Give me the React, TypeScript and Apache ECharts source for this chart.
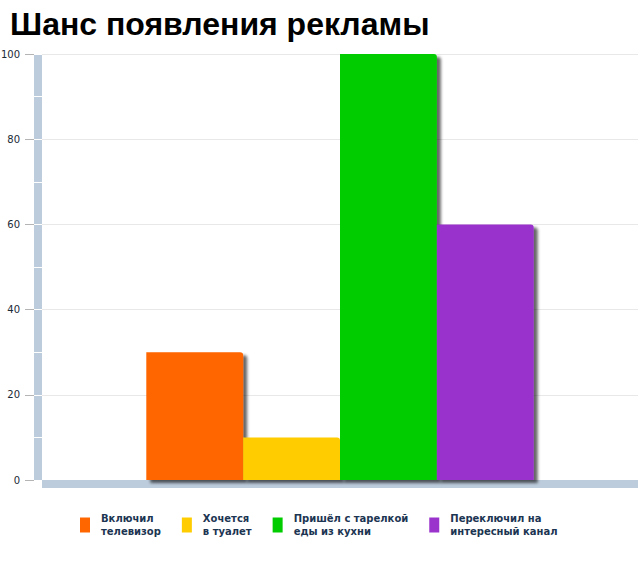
import React, { useEffect, useRef } from "react";
import * as echarts from "echarts";

const titleText = "Шанс появления рекламы";
const categories = [""];
const seriesNames = [
  "Включил\nтелевизор",
  "Хочется\nв туалет",
  "Пришёл с тарелкой\nеды из кухни",
  "Переключил на\nинтересный канал",
];
const seriesValues = [30, 10, 100, 60];
const seriesColors = ["#ff6600", "#ffcc00", "#00cc00", "#9933cc"];
const yMin = 0;
const yMax = 100;
const yStep = 20;
const yMinorStep = 10;

const axisBarColor = "#bdccdc";

export default function App() {
  const ref = useRef<HTMLDivElement>(null);
  useEffect(() => {
    if (!ref.current) return;
    const chart = echarts.init(ref.current, undefined, { renderer: "svg" });
    const option: any = {
      animation: false,
      backgroundColor: "#ffffff",
      title: {
        text: titleText,
        left: 5,
        top: 3,
        textStyle: {
          fontFamily: "Liberation Sans",
          fontSize: 32,
          fontWeight: "bold",
          color: "#000000",
        },
      },
      legend: {
        left: 80,
        top: 512,
        padding: 0,
        itemWidth: 10,
        itemHeight: 15,
        itemGap: 21,
        icon: "rect",
        textStyle: {
          fontFamily: "DejaVu Sans",
          fontWeight: "bold",
          fontSize: 10,
          lineHeight: 13,
          color: "#1c3552",
          padding: [0, 0, 0, 6],
        },
        data: seriesNames,
      },
      grid: {
        left: 42,
        right: 2,
        top: 54,
        bottom: 85,
        containLabel: false,
        outerBoundsMode: "none",
      },
      xAxis: {
        type: "category",
        data: categories,
        offset: 4,
        axisLine: {
          show: true,
          onZero: false,
          lineStyle: { color: axisBarColor, width: 8, cap: "butt" },
        },
        axisTick: { show: false },
        axisLabel: { show: false },
        splitLine: { show: false },
      },
      yAxis: [
        {
          type: "value",
          position: "left",
          min: yMin,
          max: yMax,
          interval: yStep,
          offset: 4,
          axisLine: {
            show: true,
            onZero: false,
            lineStyle: { color: axisBarColor, width: 8, cap: "butt" },
          },
          axisTick: { show: false },
          axisLabel: { show: false },
          splitLine: { show: true, lineStyle: { color: "#e8e8e8", width: 1 } },
        },
        {
          type: "value",
          position: "left",
          min: yMin,
          max: yMax,
          interval: yStep,
          offset: 8,
          axisLine: { show: false, onZero: false },
          axisTick: { show: true, length: 9, lineStyle: { color: "#b4b4b4" } },
          axisLabel: {
            show: true,
            margin: 14,
            fontFamily: "DejaVu Sans",
            fontSize: 10,
            color: "#1a2a36",
          },
          splitLine: { show: false },
        },
        {
          type: "value",
          position: "left",
          min: yMin,
          max: yMax,
          interval: yMinorStep,
          offset: 8,
          z: 5,
          axisLine: { show: false, onZero: false },
          axisTick: {
            show: true,
            inside: true,
            length: 8,
            lineStyle: { color: "#ffffff", width: 1 },
          },
          axisLabel: { show: false },
          splitLine: { show: false },
        },
      ],
      series: seriesNames.map((name, i) => ({
        name,
        type: "bar",
        yAxisIndex: 0,
        barGap: "0%",
        barCategoryGap: "35%",
        data: [seriesValues[i]],
        itemStyle: {
          color: seriesColors[i],
          borderRadius: [0, 3, 0, 0],
          shadowColor: "rgba(0,0,0,0.6)",
          shadowBlur: 3,
          shadowOffsetX: 4,
          shadowOffsetY: 3,
        },
      })),
    };
    chart.setOption(option);
    return () => chart.dispose();
  }, []);
  return (
    <div
      ref={ref}
      style={{ position: "absolute", left: 0, top: 0, width: 640, height: 565 }}
    />
  );
}
